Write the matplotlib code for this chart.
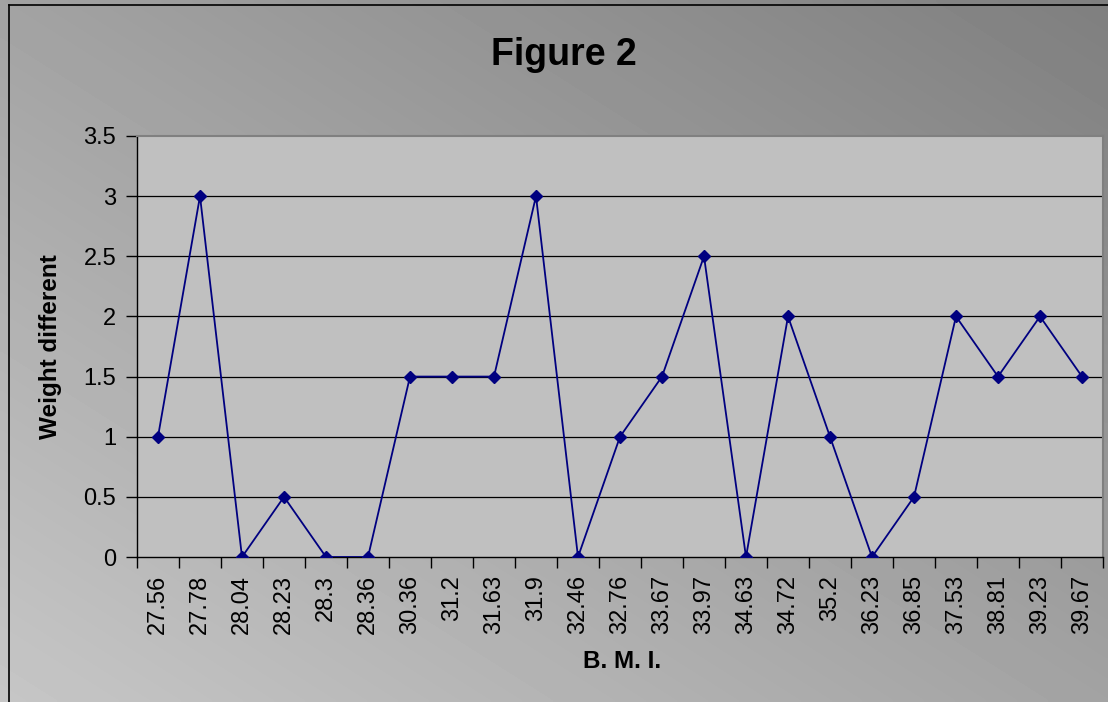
import matplotlib

matplotlib.use("Agg")
import matplotlib.pyplot as plt
import numpy as np
from matplotlib.lines import Line2D

plt.rcParams["font.family"] = ["Liberation Sans", "DejaVu Sans"]

bmi_labels = ["27.56", "27.78", "28.04", "28.23", "28.3", "28.36", "30.36", "31.2",
              "31.63", "31.9", "32.46", "32.76", "33.67", "33.97", "34.63", "34.72",
              "35.2", "36.23", "36.85", "37.53", "38.81", "39.23", "39.67"]
weight_diff = [1, 3, 0, 0.5, 0, 0, 1.5, 1.5, 1.5, 3, 0, 1, 1.5, 2.5, 0, 2, 1, 0,
               0.5, 2, 1.5, 2, 1.5]
y_ticks = [0, 0.5, 1, 1.5, 2, 2.5, 3, 3.5]

W, H = 1108, 702
fig = plt.figure(figsize=(W / 100, H / 100), dpi=100)

# gradient background: light bottom-left, dark top-right
bg = fig.add_axes([0, 0, 1, 1], zorder=-10)
u = np.linspace(0, 1, 300)
v = np.linspace(1, 0, 200)
uu, vv = np.meshgrid(u, v)
shade = (198 - 71 * (0.5 * uu + 0.5 * vv)) / 255
bg.imshow(shade, cmap="gray", vmin=0, vmax=1, extent=[0, 1, 0, 1],
          aspect="auto", interpolation="bilinear")
bg.axis("off")

# outer frame (left and top visible)
fig.add_artist(Line2D([8.5 / W, 8.5 / W], [0, 1 - 5 / H], color="black", lw=1.2))
fig.add_artist(Line2D([8.5 / W, 1], [1 - 5 / H, 1 - 5 / H], color="black", lw=1.2))

ax = fig.add_axes([137 / W, 1 - 557 / H, 966 / W, 421 / H])
ax.set_facecolor("#C0C0C0")

x = np.arange(len(bmi_labels))
ax.plot(x, weight_diff, color="#000080", lw=1.3, marker="D", markersize=6.5,
        markerfacecolor="#000080", markeredgecolor="#000080", zorder=3)

ax.set_xlim(-0.5, len(bmi_labels) - 0.5)
ax.set_ylim(0, 3.5)
ax.set_yticks(y_ticks)
ax.set_yticklabels([f"{t:g}" for t in y_ticks], fontsize=17)
ax.set_xticks(x)
ax.set_xticklabels(bmi_labels, rotation=90, fontsize=17)
ax.set_xticks(np.arange(-0.5, len(bmi_labels)), minor=True)
ax.tick_params(axis="x", which="major", length=0, pad=13)
ax.tick_params(axis="x", which="minor", length=8, width=1, direction="out")
ax.tick_params(axis="y", length=8, width=1, direction="out", pad=7)

for t in y_ticks[1:-1]:
    ax.axhline(t, color="black", lw=0.9, zorder=1)

for side in ["left", "bottom"]:
    ax.spines[side].set_color("black")
    ax.spines[side].set_linewidth(1.0)
for side in ["top", "right"]:
    ax.spines[side].set_color("#808080")
    ax.spines[side].set_linewidth(1.5)

ax.set_ylabel("Weight different", fontsize=17.5, fontweight="bold")
ax.yaxis.set_label_coords(-0.09, 0.5)
ax.set_xlabel("B. M. I.", fontsize=17.5, fontweight="bold")
ax.xaxis.set_label_coords(0.502, -0.249)
ax.xaxis.label.set_va("center")
ax.yaxis.label.set_va("center")

fig.text(564 / W, 1 - 55 / H, "Figure 2", fontsize=27, fontweight="bold",
         ha="center", va="center")

fig.savefig("out.png", dpi=100)
